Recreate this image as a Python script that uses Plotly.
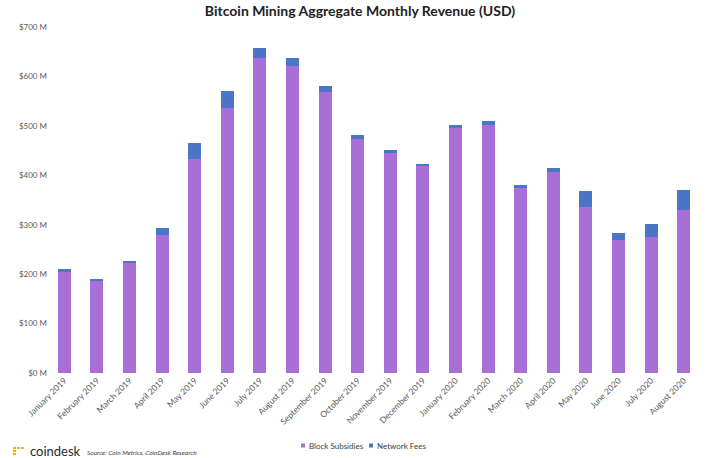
import plotly.graph_objects as go

months = ["January 2019", "February 2019", "March 2019", "April 2019", "May 2019",
          "June 2019", "July 2019", "August 2019", "September 2019", "October 2019",
          "November 2019", "December 2019", "January 2020", "February 2020", "March 2020",
          "April 2020", "May 2020", "June 2020", "July 2020", "August 2020"]

block_subsidies = [206, 188, 224, 279, 433, 536, 637, 622, 569, 474,
                   445, 418, 496, 502, 374, 407, 336, 270, 276, 330]
network_fees = [4, 2, 3, 14, 32, 35, 21, 15, 11, 8,
                6, 5, 5, 7, 7, 7, 32, 13, 26, 40]

y_ticks = [0, 100, 200, 300, 400, 500, 600, 700]
y_tick_labels = ["$%d M" % v for v in y_ticks]

PURPLE = "#A86FD6"
BLUE = "#4A76C8"

fig = go.Figure()
fig.add_trace(go.Bar(x=months, y=block_subsidies, name="Block Subsidies",
                     marker=dict(color=PURPLE, line=dict(width=0))))
fig.add_trace(go.Bar(x=months, y=network_fees, name="Network Fees",
                     marker=dict(color=BLUE, line=dict(width=0))))

W, H = 710, 458
# plot area in screenshot pixels
SL, SR, ST, SB = 48, 700, 27, 373
PL, PR, PT, PB = SL, W - SR, ST, H - SB
PW, PH = SR - SL, SB - ST


def px_x(x):
    return (x - SL) / PW


def px_y(y):
    return (SB - y) / PH


fig.update_layout(
    barmode="stack",
    bargap=0.6,
    width=W, height=H,
    margin=dict(l=PL, r=PR, t=PT, b=PB, autoexpand=False),
    paper_bgcolor="white", plot_bgcolor="white",
    font=dict(family="Lato, Open Sans, sans-serif", color="#595959", size=9),
    title=dict(text="<b>Bitcoin Mining Aggregate Monthly Revenue (USD)</b>",
               x=360 / W, xanchor="center", y=1 - 11 / H, yanchor="middle",
               font=dict(size=14, color="#222222", family="Lato, Open Sans, sans-serif")),
    showlegend=False,
)

fig.update_xaxes(tickangle=-45, showgrid=False, showline=False, ticks="", automargin=False,
                 tickfont=dict(size=8.5, color="#595959"))
fig.update_yaxes(range=[0, 700], tickvals=y_ticks, ticktext=y_tick_labels, automargin=False,
                 showgrid=False, zeroline=False, showline=False, ticks="",
                 tickfont=dict(size=8, color="#595959"))

# manual legend
legend_items = [("Block Subsidies", PURPLE, 301), ("Network Fees", BLUE, 369)]
for name, col, lx in legend_items:
    fig.add_shape(type="rect", xref="paper", yref="paper",
                  x0=px_x(lx), x1=px_x(lx + 4), y0=px_y(443.5), y1=px_y(447.5),
                  fillcolor=col, line=dict(width=0))
    fig.add_annotation(text=name, xref="paper", yref="paper",
                       x=px_x(lx + 6), y=px_y(445.5), xanchor="left", yanchor="middle",
                       showarrow=False, font=dict(size=8, color="#404040"))

# coindesk logo icon (small yellow grid)
for i in range(3):
    for j in range(3):
        if (i, j) in [(1, 1), (1, 2), (2, 1), (2, 2)]:
            continue
        fig.add_shape(type="rect", xref="paper", yref="paper",
                      x0=px_x(13 + i * 4), x1=px_x(13 + i * 4 + 3),
                      y0=px_y(447 + j * 3), y1=px_y(447 + j * 3 + 2),
                      fillcolor="#F5B400", line=dict(width=0))

fig.add_annotation(text="coindesk", xref="paper", yref="paper",
                   x=px_x(28), y=px_y(451), xanchor="left", yanchor="middle",
                   showarrow=False, font=dict(size=13, color="#2b2b2b", family="Lato, sans-serif"))
fig.add_annotation(text="<i>Source: Coin Metrics, CoinDesk Research</i>", xref="paper", yref="paper",
                   x=px_x(85), y=px_y(452.5), xanchor="left", yanchor="middle",
                   showarrow=False, font=dict(size=6.5, color="#404040", family="Lato, sans-serif"))

fig.write_html("out.html",
               config={"displayModeBar": False},
               post_script="document.body.style.margin='0px';document.body.style.padding='0px';")
